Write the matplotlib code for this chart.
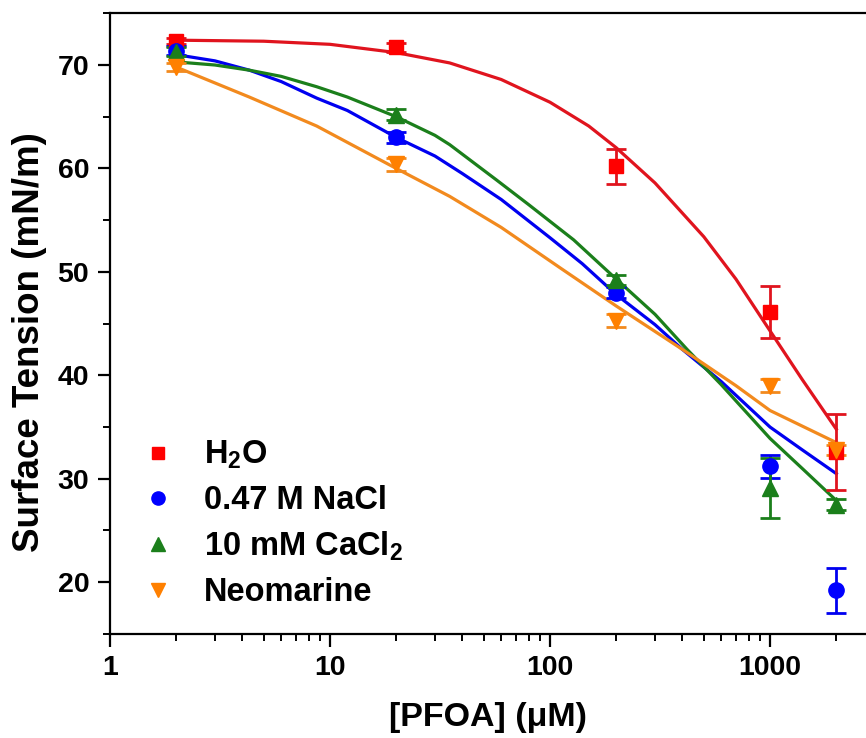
import matplotlib
matplotlib.use("Agg")
import matplotlib.pyplot as plt
from matplotlib.lines import Line2D
from matplotlib.ticker import LogLocator, MultipleLocator, FixedLocator


plt.rcParams["font.family"] = ["Liberation Sans", "DejaVu Sans"]
plt.rcParams["font.weight"] = "bold"
plt.rcParams["mathtext.default"] = "regular"

# measured points
conc = [2, 20, 200, 1000, 2000]
h2o = [72.3, 71.7, 60.2, 46.1, 32.6]
h2o_err = [0.3, 0.4, 1.7, 2.5, 3.7]
nacl = [71.4, 63.0, 48.0, 31.2, 19.2]
nacl_err = [0.4, 0.5, 0.5, 1.1, 2.2]
cacl2 = [71.3, 65.2, 49.2, 29.1, 27.5]
cacl2_err = [0.4, 0.5, 0.5, 2.9, 0.5]
neo = [69.8, 60.4, 45.3, 39.0, 32.8]
neo_err = [0.4, 0.6, 0.6, 0.6, 0.5]

# fitted curves
h2o_fit_x = [2, 5, 10, 20, 35, 60, 100, 150, 200, 300, 500, 700, 1000, 1400, 2000]
h2o_fit_y = [72.4, 72.3, 72.0, 71.2, 70.2, 68.6, 66.4, 64.1, 62.0, 58.6, 53.4, 49.3, 44.3, 39.6, 34.8]
nacl_fit_x = [2, 3, 4.3, 6, 8.7, 12, 20, 30, 40, 60, 100, 140, 200, 300, 400, 600, 1000, 1400, 2000]
nacl_fit_y = [71.0, 70.4, 69.5, 68.4, 66.8, 65.6, 63.0, 61.2, 59.5, 57.0, 53.3, 50.8, 47.8, 44.9, 42.5, 39.4, 35.0, 32.8, 30.5]
cacl2_fit_x = [2, 3, 4.3, 6, 8.7, 12, 20, 30, 35, 57, 80, 128, 200, 300, 420, 600, 1000, 1400, 2000]
cacl2_fit_y = [70.3, 70.0, 69.5, 68.9, 67.9, 66.9, 65.0, 63.2, 62.3, 58.9, 56.5, 53.1, 49.3, 45.9, 42.5, 39.1, 33.9, 31.0, 27.9]
neo_fit_x = [2, 4.3, 8.7, 20, 35, 60, 111, 200, 400, 700, 1000, 2000]
neo_fit_y = [69.8, 66.9, 64.1, 60.0, 57.3, 54.3, 50.4, 46.7, 42.5, 39.0, 36.6, 33.5]

labels = ["H$_2$O", "0.47 M NaCl", "10 mM CaCl$_2$", "Neomarine"]

fig = plt.figure(figsize=(8.66, 7.38), dpi=100)
ax = fig.add_axes([0.127, 0.141, 0.873, 0.841])

series = [
    (h2o, h2o_err, h2o_fit_x, h2o_fit_y, "#FF0000", "#E0141E", "s", 10),
    (nacl, nacl_err, nacl_fit_x, nacl_fit_y, "#0000FF", "#0000F0", "o", 11),
    (cacl2, cacl2_err, cacl2_fit_x, cacl2_fit_y, "#1B7F1B", "#1B7F1B", "^", 11.5),
    (neo, neo_err, neo_fit_x, neo_fit_y, "#FF8000", "#F28A1E", "v", 11.5),
]

handles = []
for (vals, err, fx, fy, col, lcol, mk, ms), lab in zip(series, labels):
    ax.plot(fx, fy, color=lcol, lw=2.3, zorder=2)
    ax.errorbar(conc, vals, yerr=err, fmt=mk, color=col, ms=ms, ecolor=lcol,
                elinewidth=2, capsize=7, capthick=2, zorder=3)
    handles.append(Line2D([], [], ls="none", marker=mk, color=col, ms=ms - 1.5, label=lab))

ax.set_xscale("log")
ax.set_xlim(1, 2730)
ax.set_ylim(15, 75)
ax.xaxis.set_major_locator(FixedLocator([1, 10, 100, 1000]))
ax.xaxis.set_minor_locator(LogLocator(base=10, subs=range(2, 10)))
ax.set_xticklabels(["1", "10", "100", "1000"])
ax.yaxis.set_major_locator(MultipleLocator(10))
ax.yaxis.set_minor_locator(MultipleLocator(5))
ax.set_yticks([20, 30, 40, 50, 60, 70])

ax.spines["right"].set_visible(False)
for s in ["left", "bottom", "top"]:
    ax.spines[s].set_linewidth(1.6)
ax.tick_params(which="major", direction="out", length=9, width=1.6, labelsize=20.5, pad=6)
ax.tick_params(which="minor", direction="out", length=5, width=1.4)
ax.tick_params(top=False, right=False, which="both")

ax.set_xlabel("[PFOA] (μM)", fontsize=24.5, fontweight="bold", labelpad=15)
ax.set_ylabel("Surface Tension (mN/m)", fontsize=26.5, fontweight="bold")
ax.yaxis.set_label_coords(-0.083, 0.47)

ax.legend(handles=handles, loc="upper left", bbox_to_anchor=(0.025, 0.335), frameon=False,
          fontsize=23.5, handletextpad=0.9, labelspacing=0.42,
          handlelength=1.0, borderaxespad=0.0)

fig.savefig("out.png", dpi=100)
